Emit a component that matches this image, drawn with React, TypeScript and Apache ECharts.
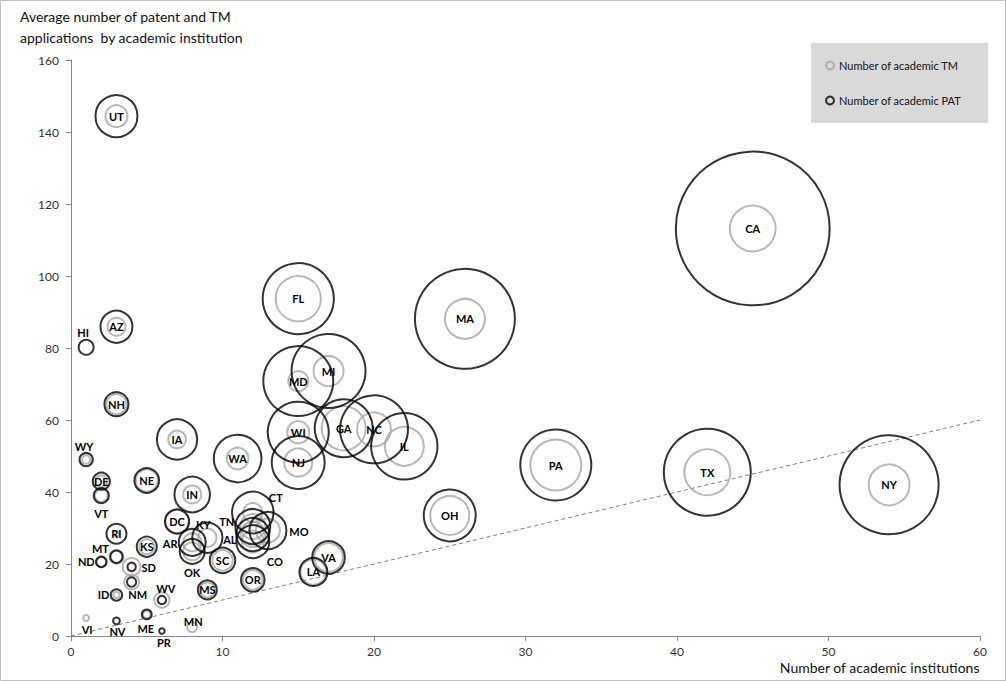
import React, { useEffect, useRef } from "react";
import * as echarts from "echarts";

const states = ["UT","AZ","HI","NH","WY","DE","VT","NE","IA","WA","IN","DC","RI","KS","MT","ND","SD","NM","ID","WV","VI","NV","ME","PR","MN","MS","OR","SC","VA","LA","AR","OK","KY","CT","MO","TN","AL","CO","FL","MD","MI","WI","NJ","GA","NC","IL","MA","OH","PA","TX","NY","CA"];
const institutions = [3,3,1,3,1,2,2,5,7,11,8,7,3,5,3,2,4,4,3,6,1,3,5,6,8,9,12,10,17,16,8,8,9,12,13,12,12,12,15,15,17,15,15,18,20,22,26,25,32,42,54,45];
const avgApplications = [144.4,85.9,80.2,64.4,49,43,39,43.2,54.6,49.3,39.3,31.8,28.4,24.8,22,20.6,19.2,15,11.4,10,5,4.2,6,1.4,2.5,12.8,15.6,21,21.8,17.8,26,23.5,27.3,34.3,29.3,30.4,28.2,26.2,93.7,70.8,73.6,56.6,48.2,57.7,57.4,52.7,88.1,33.5,47.5,45.5,42,113.2];
const patApplications = [348,202,44,114,35,58,45,120,320,450,250,115,79,80,30,22,14,17,26,14,0,9,19,6,0,71,110,128,210,155,144,123,180,340,270,242,215,215,1000,968,1082,735,555,664,913,870,1975,534,996,1495,1940,4670];
const tmApplications = [96,64,0,79,14,28,33,96,61,92,64,108,6,44,36,19,62,43,8,46,7,0,11,0,20,44,77,82,161,130,64,64,66,72,114,123,123,96,405,79,178,96,155,382,228,300,316,300,514,418,330,415];
const refLine = [[0, 0], [60, 60]];
const xTicks = { min: 0, max: 60, interval: 10 };
const yTicks = { min: 0, max: 160, interval: 20 };

const TM_NAME = "Number of academic TM";
const PAT_NAME = "Number of academic PAT";

const labelOffsets: Record<string, [number, number]> = {
  HI: [-3, -15], WY: [-2, -13], VT: [0, 18], MT: [-16, -8], ND: [-15, 0],
  SD: [17, 1], NM: [6, 12], ID: [-13, 0], WV: [4, -12], VI: [1, 11],
  NV: [1, 11], ME: [-1, 14], PR: [2, 12], MN: [1, -6], AR: [-22, 1],
  OK: [0, 21], KY: [-4, -13], TN: [-26, -5], AL: [-23, 5], CT: [23, -15],
  MO: [31, 1], CO: [22, 20],
};

const FONT = "Lato, 'Open Sans', sans-serif";
const sizeOf = (v: number) => (v > 0 ? 2.25 * Math.sqrt(v) : 0);

export default function App() {
  const ref = useRef<HTMLDivElement>(null);
  useEffect(() => {
    document.body.style.margin = "0";
    if (!ref.current) return;
    const chart = echarts.init(ref.current, null, { renderer: "svg" });
    const tmData = states.map((s, i) => [institutions[i], avgApplications[i], tmApplications[i], s]);
    const patData = states.map((s, i) => [institutions[i], avgApplications[i], patApplications[i], s]);
    const labelData = states.map((s, i) => {
      const off = labelOffsets[s] || [0, 0];
      return {
        value: [institutions[i], avgApplications[i]],
        name: s,
        label: { offset: off },
      };
    });
    chart.setOption({
      animation: false,
      backgroundColor: "#fff",
      textStyle: { fontFamily: FONT },
      grid: { left: 71, right: 26, top: 60, bottom: 45 },
      legend: {
        orient: "vertical",
        left: 811,
        top: 43,
        padding: [17, 27, 17, 14],
        itemGap: 24,
        itemWidth: 8,
        itemHeight: 8,
        backgroundColor: "#d9d9d9",
        textStyle: { fontSize: 11, color: "#111", fontFamily: FONT },
        data: [
          { name: TM_NAME, icon: "circle" },
          { name: PAT_NAME, icon: "circle" },
        ],
      },
      xAxis: {
        type: "value",
        min: xTicks.min,
        max: xTicks.max,
        interval: xTicks.interval,
        splitLine: { show: false },
        axisLine: { onZero: false, lineStyle: { color: "#868686", width: 1 } },
        axisTick: { show: true, length: 5, lineStyle: { color: "#868686" } },
        axisLabel: { color: "#333", fontSize: 12, margin: 9, fontFamily: FONT },
      },
      yAxis: {
        type: "value",
        min: yTicks.min,
        max: yTicks.max,
        interval: yTicks.interval,
        splitLine: { show: false },
        axisLine: { show: true, onZero: false, lineStyle: { color: "#868686", width: 1 } },
        axisTick: { show: true, length: 5, lineStyle: { color: "#868686" } },
        axisLabel: { color: "#333", fontSize: 12, margin: 12, fontFamily: FONT },
      },
      series: [
        {
          type: "line",
          data: refLine,
          symbol: "none",
          silent: true,
          z: 1,
          lineStyle: { color: "#7f7f7f", width: 1, type: [4, 3] },
        },
        {
          name: TM_NAME,
          type: "scatter",
          data: tmData,
          symbol: "circle",
          symbolSize: (v: any) => sizeOf(v[2]),
          z: 2,
          itemStyle: { color: "rgba(0,0,0,0)", borderColor: "#a6a6a6", borderWidth: 2 },
        },
        {
          name: PAT_NAME,
          type: "scatter",
          data: patData,
          symbol: "circle",
          symbolSize: (v: any) => sizeOf(v[2]),
          z: 3,
          itemStyle: { color: "rgba(0,0,0,0)", borderColor: "#000", borderWidth: 2 },
        },
        {
          name: "labels",
          type: "scatter",
          data: labelData,
          symbolSize: 1,
          silent: true,
          z: 4,
          itemStyle: { color: "rgba(0,0,0,0)" },
          label: {
            show: true,
            position: "inside",
            formatter: (p: any) => p.name,
            fontSize: 11,
            fontWeight: "bold",
            color: "#000",
            textBorderWidth: 0,
            opacity: 1,
            fontFamily: FONT,
          },
        },
      ],
      graphic: [
        {
          type: "rect",
          shape: { x: 0.5, y: 0.5, width: 1005, height: 680 },
          style: { fill: "none", stroke: "#bfbfbf", lineWidth: 1 },
          silent: true,
        },
        {
          type: "text",
          left: 20,
          top: 6,
          style: {
            text: "Average number of patent and TM\napplications  by academic institution",
            fontSize: 14,
            lineHeight: 21,
            fill: "#111",
            fontFamily: FONT,
          },
        },
        {
          type: "text",
          right: 26,
          top: 660,
          style: {
            text: "Number of academic institutions",
            fontSize: 14,
            fill: "#111",
            fontFamily: FONT,
          },
        },
      ],
    });
    return () => chart.dispose();
  }, []);
  return <div ref={ref} style={{ width: 1006, height: 681 }} />;
}
